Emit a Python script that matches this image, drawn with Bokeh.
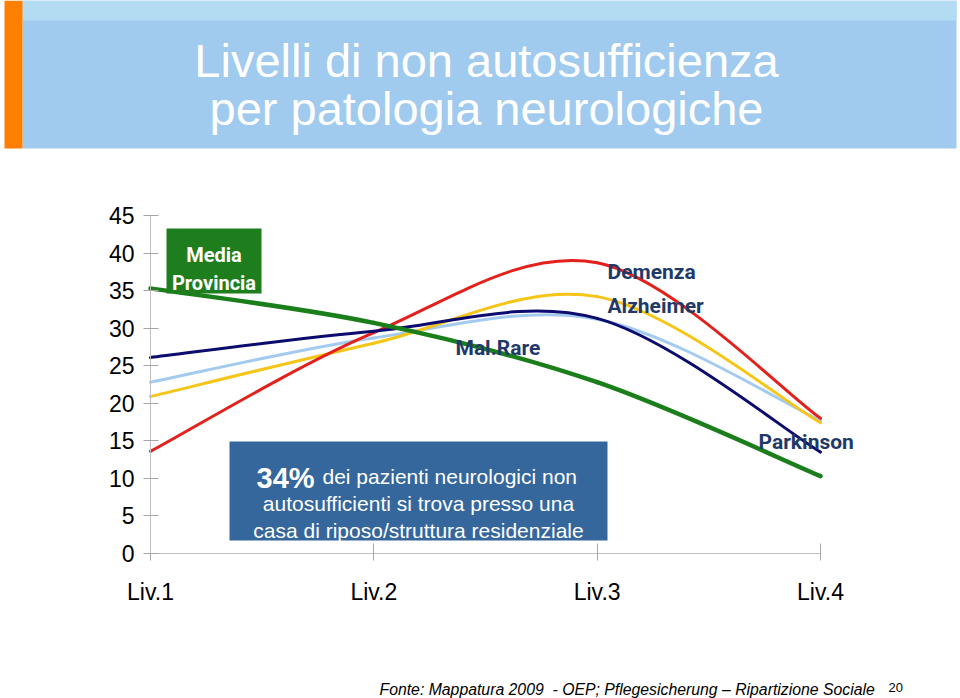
from bokeh.plotting import figure
from bokeh.models import Range1d, FixedTicker, ColumnDataSource
from bokeh.core.properties import value
from bokeh.embed import file_html
from bokeh.resources import INLINE

# ---------------- data ----------------
levels = ["Liv.1", "Liv.2", "Liv.3", "Liv.4"]
y_ticks = [0, 5, 10, 15, 20, 25, 30, 35, 40, 45]
demenza = [13.6, 29.4, 38.7, 18.0]
alzheimer = [20.9, 28.0, 34.2, 17.4]
parkinson = [22.8, 28.7, 31.2, 17.7]
mal_rare = [26.1, 29.6, 31.3, 13.5]
media_provincia = [35.3, 30.7, 22.8, 10.3]

title_lines = ["Livelli di non autosufficienza", "per patologia neurologiche"]
box_lines = ["dei pazienti neurologici non",
             "autosufficienti si trova presso una",
             "casa di riposo/struttura residenziale"]
box_pct = "34%"
footer = "Fonte: Mappatura 2009\u00a0 - OEP; Pflegesicherung \u2013 Ripartizione Sociale"
page_no = "20"

# ---------------- layout constants (pixels) ----------------
W, H = 960, 698
X0_PX, X3_PX = 150, 820      # Liv.1 and Liv.4 positions
Y0_PX, Y45_PX = 553, 215     # y = 0 and y = 45 positions
ppx = (X3_PX - X0_PX) / 3.0
ppy = (Y0_PX - Y45_PX) / 45.0

x_range = Range1d(-X0_PX / ppx, 3 + (W - X3_PX) / ppx)
y_range = Range1d(-(H - Y0_PX) / ppy, 45 + Y45_PX / ppy)

p = figure(width=W, height=H, x_range=x_range, y_range=y_range,
           output_backend="svg", toolbar_location=None,
           min_border=0, min_border_left=0, min_border_right=0,
           min_border_top=0, min_border_bottom=0)
p.extra_x_ranges = {"px": Range1d(0, W)}
p.extra_y_ranges = {"px": Range1d(H, 0)}
p.outline_line_color = None
p.background_fill_color = "white"
p.border_fill_color = "white"
p.grid.visible = False

FONT = value("Liberation Sans")
BOLDLBL = value("Roboto")
LABEL_COL = "#1F3A68"

# ---------------- axes ----------------
xa = p.xaxis[0]
xa.fixed_location = 0
xa.bounds = (0, 3)
xa.ticker = FixedTicker(ticks=list(range(len(levels))))
xa.major_label_overrides = {i: s for i, s in enumerate(levels)}
xa.minor_tick_line_color = None
xa.major_tick_in = 10
xa.major_tick_out = 7
xa.axis_line_color = "#BFBFBF"
xa.major_tick_line_color = "#A6A6A6"
xa.major_label_text_font = "Liberation Sans"
xa.major_label_text_font_size = "23px"
xa.major_label_text_color = "#000000"
xa.major_label_standoff = 18

ya = p.yaxis[0]
ya.fixed_location = 0
ya.bounds = (0, 45)
ya.ticker = FixedTicker(ticks=y_ticks)
ya.minor_tick_line_color = None
ya.major_tick_in = 8
ya.major_tick_out = 7
ya.axis_line_color = "#BFBFBF"
ya.major_tick_line_color = "#A6A6A6"
ya.major_label_text_font = "Liberation Sans"
ya.major_label_text_font_size = "23px"
ya.major_label_text_color = "#000000"
ya.major_label_standoff = 9

# ---------------- title banner ----------------
p.quad(left=[22], right=[956], top=[0], bottom=[148], fill_color="#A0CBEE",
       line_color=None, x_range_name="px", y_range_name="px")
p.quad(left=[22], right=[956], top=[0], bottom=[20], fill_color="#B3DBF1",
       line_color=None, x_range_name="px", y_range_name="px")
p.quad(left=[4], right=[22], top=[0], bottom=[148], fill_color="#FF7F00",
       line_color=None, x_range_name="px", y_range_name="px")
p.text(x=[486, 486], y=[60, 108], text=title_lines, text_font=FONT,
       text_font_size="47px", text_color="white", text_align="center",
       text_baseline="alphabetic", x_range_name="px", y_range_name="px")

# ---------------- smoothed lines ----------------
def smooth(ys):
    n = len(ys)
    pts = [(float(i), float(v)) for i, v in enumerate(ys)]
    d = {k: [] for k in ("x0", "y0", "x1", "y1", "cx0", "cy0", "cx1", "cy1")}
    for i in range(n - 1):
        p0 = pts[max(i - 1, 0)]
        p1 = pts[i]
        p2 = pts[i + 1]
        p3 = pts[min(i + 2, n - 1)]
        d["x0"].append(p1[0]); d["y0"].append(p1[1])
        d["x1"].append(p2[0]); d["y1"].append(p2[1])
        d["cx0"].append(p1[0] + (p2[0] - p0[0]) / 6.0)
        d["cy0"].append(p1[1] + (p2[1] - p0[1]) / 6.0)
        d["cx1"].append(p2[0] - (p3[0] - p1[0]) / 6.0)
        d["cy1"].append(p2[1] - (p3[1] - p1[1]) / 6.0)
    return ColumnDataSource(d)

series = [
    (parkinson, "#A3CBEF", 3),
    (alzheimer, "#F5C518", 3),
    (demenza, "#E3201B", 3),
    (mal_rare, "#0C0C6E", 3),
    (media_provincia, "#1A7F1A", 4.5),
]
for ys, col, lw in series:
    p.bezier(x0="x0", y0="y0", x1="x1", y1="y1", cx0="cx0", cy0="cy0",
             cx1="cx1", cy1="cy1", source=smooth(ys), line_color=col,
             line_width=lw, line_cap="round")

# ---------------- series labels ----------------
p.quad(left=[166], right=[261], top=[228], bottom=[293], fill_color="#1E7E1E",
       line_color=None, x_range_name="px", y_range_name="px")
p.text(x=[213.5, 213.5], y=[254, 282], text=["Media", "Provincia"],
       text_font=BOLDLBL, text_font_style="bold", text_font_size="20px",
       text_color="white", text_align="center", text_baseline="alphabetic",
       x_range_name="px", y_range_name="px")
p.text(x=[455, 607, 607, 758], y=[347, 271, 305, 441],
       text=["Mal.Rare", "Demenza", "Alzheimer", "Parkinson"],
       text_font=BOLDLBL, text_font_style="bold", text_font_size="21px",
       text_color=LABEL_COL, text_align="left", text_baseline="alphabetic",
       x_range_name="px", y_range_name="px")

# ---------------- text box ----------------
p.quad(left=[229], right=[607], top=[441], bottom=[540], fill_color="#35679C",
       line_color=None, x_range_name="px", y_range_name="px")
p.text(x=[256], y=[477], text=[box_pct], text_font=FONT, text_font_style="bold",
       text_font_size="29px", text_color="white", text_align="left",
       text_baseline="alphabetic", x_range_name="px", y_range_name="px")
p.text(x=[322], y=[476], text=[box_lines[0]], text_font=FONT,
       text_font_size="21px", text_color="white", text_align="left",
       text_baseline="alphabetic", x_range_name="px", y_range_name="px")
p.text(x=[418, 418], y=[503, 530], text=box_lines[1:], text_font=FONT,
       text_font_size="21px", text_color="white", text_align="center",
       text_baseline="alphabetic", x_range_name="px", y_range_name="px")

# ---------------- footer ----------------
p.text(x=[379], y=[689], text=[footer], text_font=FONT, text_font_style="italic",
       text_font_size="15.8px", text_color="#000000", text_align="left",
       text_baseline="alphabetic", x_range_name="px", y_range_name="px")
p.text(x=[888], y=[687], text=[page_no], text_font=FONT,
       text_font_size="13px", text_color="#000000", text_align="left",
       text_baseline="alphabetic", x_range_name="px", y_range_name="px")

open("out.html", "w").write(file_html(p, INLINE))
